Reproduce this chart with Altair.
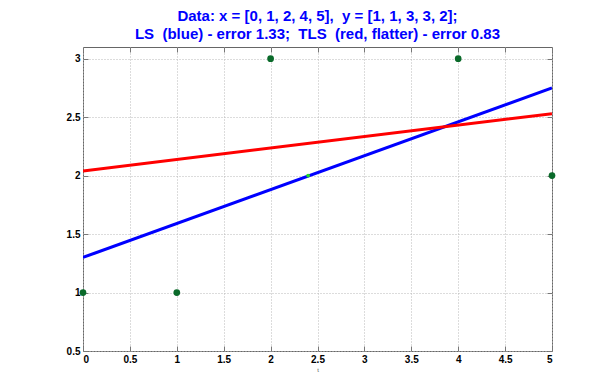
import altair as alt
import pandas as pd

# data
pts_x = [0, 1, 2, 4, 5]
pts_y = [1, 1, 3, 3, 2]
ls_x = [0, 5]
ls_y = [1.30, 2.75]
tls_x = [0, 5]
tls_y = [2.04, 2.53]
cen_x = [2.4]
cen_y = [2.0]
x_ticks = [0, 0.5, 1, 1.5, 2, 2.5, 3, 3.5, 4, 4.5, 5]
y_ticks = [0.5, 1, 1.5, 2, 2.5, 3]
NB = "\u00a0"
title_lines = [f"Data: x = [0, 1, 2, 4, 5],{NB} y = [1, 1, 3, 3, 2];",
               f"LS{NB} (blue) - error 1.33;{NB} TLS{NB} (red, flatter) - error 0.83"]

df_pts = pd.DataFrame({"x": pts_x, "y": pts_y})
df_ls = pd.DataFrame({"x": ls_x, "y": ls_y})
df_tls = pd.DataFrame({"x": tls_x, "y": tls_y})
df_cen = pd.DataFrame({"x": cen_x, "y": cen_y})

FONT = "Liberation Sans"

def xs():
    return alt.Scale(domain=[0, 5], nice=False, zero=False)

def ys():
    return alt.Scale(domain=[0.5, 3.1], nice=False, zero=False)

main_x = alt.X("x:Q", scale=xs(), title="t",
               axis=alt.Axis(values=x_ticks, format="~g", grid=True, ticks=False,
                             domain=False, labelFont=FONT, labelFontWeight="bold",
                             labelFontSize=10, labelColor="black", labelPadding=3,
                             titleFont=FONT, titleFontSize=6, titleFontWeight="normal",
                             titleColor="#555", titlePadding=2,
                             gridColor="#b8b8b8", gridDash=[1, 2], gridWidth=1))
main_y = alt.Y("y:Q", scale=ys(), title=None,
               axis=alt.Axis(values=y_ticks, format="~g", grid=True, ticks=False,
                             domain=False, labelFont=FONT, labelFontWeight="bold",
                             labelFontSize=10, labelColor="black", labelPadding=3,
                             gridColor="#b8b8b8", gridDash=[1, 2], gridWidth=1))

ls_line = alt.Chart(df_ls).mark_line(color="#0000ff", strokeWidth=3, clip=True).encode(x=main_x, y=main_y)
tls_line = alt.Chart(df_tls).mark_line(color="#ff0000", strokeWidth=3, clip=True).encode(x="x:Q", y="y:Q")
pts = alt.Chart(df_pts).mark_circle(color="#0a6a2a", size=45, opacity=1).encode(x="x:Q", y="y:Q")
cen = alt.Chart(df_cen).mark_circle(color="#22dd22", size=14, opacity=1).encode(x="x:Q", y="y:Q")

main = alt.layer(ls_line, tls_line, pts, cen)

def tick_axis(orient, values):
    return alt.Axis(orient=orient, values=values, offset=-5, tickSize=5, ticks=True,
                    tickColor="#777", tickWidth=1, labels=False, domain=False,
                    grid=False, title=None)

ticks_a = alt.Chart(df_pts).mark_point(opacity=0).encode(
    x=alt.X("x:Q", scale=xs(), axis=tick_axis("bottom", x_ticks)),
    y=alt.Y("y:Q", scale=ys(), axis=tick_axis("left", y_ticks)),
)
ticks_b = alt.Chart(df_pts).mark_point(opacity=0).encode(
    x=alt.X("x:Q", scale=xs(), axis=tick_axis("top", x_ticks)),
    y=alt.Y("y:Q", scale=ys(), axis=tick_axis("right", y_ticks)),
)

chart = alt.layer(main, ticks_a, ticks_b).resolve_scale(
    x="independent", y="independent"
).properties(
    width=469,
    height=304,
    autosize=alt.AutoSizeParams(type="none"),
    padding={"left": 75, "top": 39, "right": 20, "bottom": 30},
    title=alt.TitleParams(text=title_lines, font=FONT, fontSize=15, fontWeight="bold",
                          color="#0000ff", anchor="middle", frame="group",
                          lineHeight=18, offset=5),
    background="white",
).configure_view(stroke="#666666", strokeWidth=1)

chart.save("out.html", embed_options={"renderer": "svg", "actions": False})
